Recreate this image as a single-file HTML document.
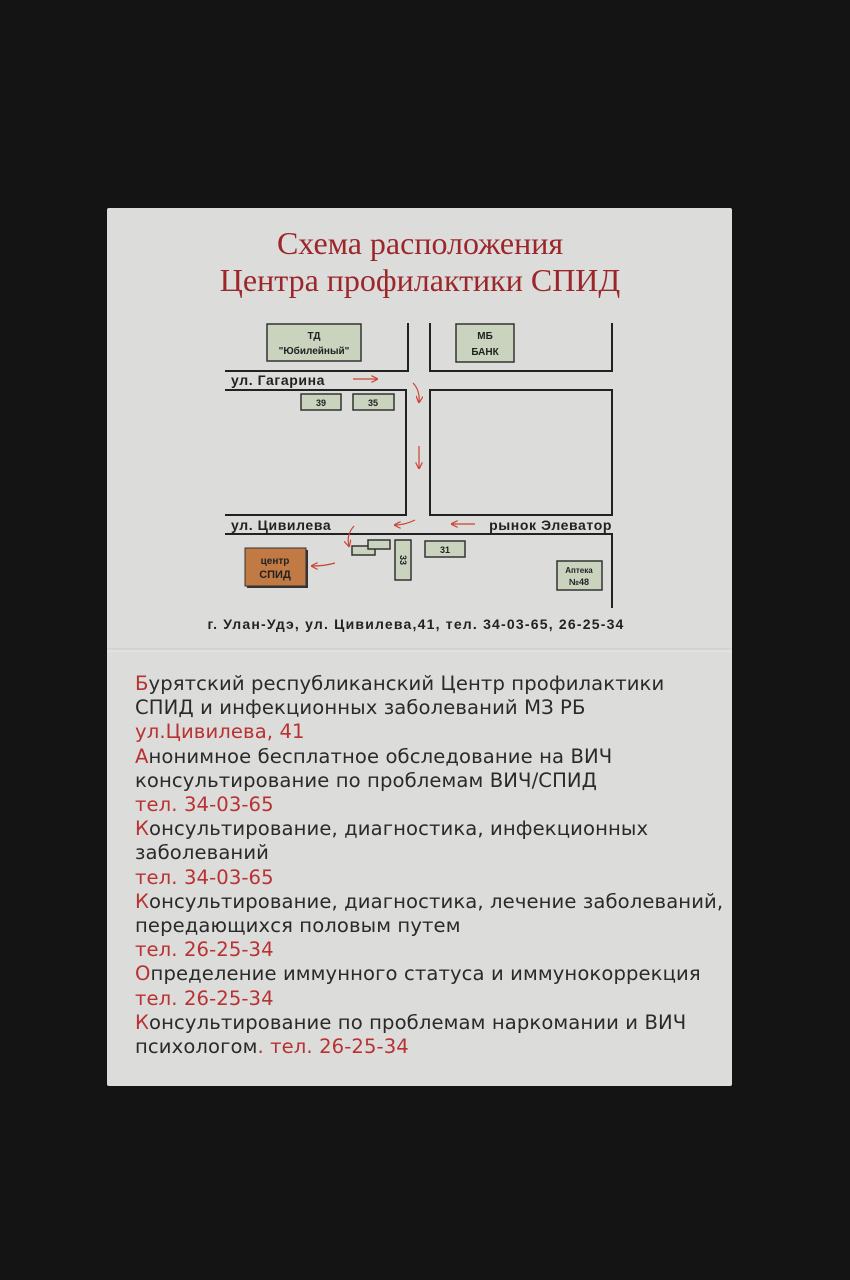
<!DOCTYPE html>
<html><head><meta charset="utf-8"><style>
body{margin:0;width:850px;height:1280px;background:#141414;position:relative;overflow:hidden}
.card{position:absolute;left:107px;top:208px;width:625px;height:878px;background:#dcdcdb;border-radius:2px}
.fold{position:absolute;left:107px;top:648px;width:625px;height:4px;background:linear-gradient(#cfcfce,#e6e6e5)}
.t{position:absolute;width:850px;text-align:center;font-family:"Liberation Serif",serif;color:#9c272b;font-size:32px;left:-5px}
.txt{position:absolute;left:135px;top:672px;font-family:"DejaVu Sans","Liberation Sans",sans-serif;font-size:19.6px;line-height:24.2px;color:#2a2a2a;white-space:nowrap;letter-spacing:0.1px}
.r{color:#b83232}
svg text{font-family:"Liberation Sans",sans-serif;font-weight:bold;fill:#222}
</style></head><body>
<div class="card"></div><div class="fold"></div>
<div class="t" style="top:225px">Схема расположения</div>
<div class="t" style="top:262px">Центра профилактики СПИД</div>
<svg width="850" height="1280" style="position:absolute;left:0;top:0">
<defs><marker id="a" markerWidth="6" markerHeight="6" refX="5" refY="3" orient="auto"><path d="M0,0 L6,3 L0,6" fill="none" stroke="#c43" stroke-width="1"/></marker></defs>
<g stroke="#222" stroke-width="2" fill="none">
<polyline points="408,323 408,371 225,371"/>
<polyline points="225,390 406,390 406,515 225,515"/>
<polyline points="430,323 430,371 612,371 612,323"/>
<rect x="430" y="390" width="182" height="125"/>
<polyline points="225,534 612,534 612,608"/>
</g>
<g fill="#c9d3bd" stroke="#333" stroke-width="1.5">
<rect x="267" y="324" width="94" height="37"/><rect x="456" y="324" width="58" height="38"/>
<rect x="301" y="394" width="40" height="16"/><rect x="353" y="394" width="41" height="16"/>
<rect x="425" y="541" width="40" height="16"/><rect x="395" y="540" width="16" height="40"/>
<rect x="352" y="546" width="23" height="9"/><rect x="368" y="540" width="22" height="9"/>
<rect x="557" y="561" width="45" height="29"/>
</g>
<rect x="247" y="550" width="61" height="38" fill="#333"/>
<rect x="245" y="548" width="61" height="38" fill="#c27a44" stroke="#333"/>
<g stroke="#c43" stroke-width="1.2" fill="none" marker-end="url(#a)">
<path d="M353,379 H377"/><path d="M413,383 Q420,390 419,402"/><path d="M419,446 V468"/>
<path d="M415,520 Q405,525 395,525"/><path d="M475,524 H452"/><path d="M354,526 Q346,535 349,546"/><path d="M335,563 Q325,566 312,566"/>
</g>
<text x="231" y="385" font-size="14" letter-spacing="0.6">ул. Гагарина</text>
<text x="231" y="530" font-size="14" letter-spacing="0.6">ул. Цивилева</text>
<text x="612" y="530" font-size="14" text-anchor="end" letter-spacing="0.6">рынок Элеватор</text>
<text x="314" y="339" font-size="10" text-anchor="middle">ТД</text>
<text x="314" y="354" font-size="10" text-anchor="middle">"Юбилейный"</text>
<text x="485" y="339" font-size="10" text-anchor="middle">МБ</text>
<text x="485" y="355" font-size="10" text-anchor="middle">БАНК</text>
<text x="321" y="406" font-size="9" text-anchor="middle">39</text>
<text x="373" y="406" font-size="9" text-anchor="middle">35</text>
<text x="445" y="553" font-size="9" text-anchor="middle">31</text>
<text x="0" y="0" font-size="9" text-anchor="middle" transform="translate(400,560) rotate(90)">33</text>
<text x="579" y="573" font-size="8" text-anchor="middle">Аптека</text>
<text x="579" y="585" font-size="9" text-anchor="middle">№48</text>
<text x="275" y="564" font-size="10" text-anchor="middle">центр</text>
<text x="275" y="578" font-size="11" text-anchor="middle">СПИД</text>
<text x="416" y="629" font-size="14" text-anchor="middle" letter-spacing="1.2">г. Улан-Удэ, ул. Цивилева,41, тел. 34-03-65, 26-25-34</text>
</svg>
<div class="txt">
<span class="r">Б</span>урятский республиканский Центр профилактики<br>
СПИД и инфекционных заболеваний МЗ РБ<br>
<span class="r">ул.Цивилева, 41</span><br>
<span class="r">А</span>нонимное бесплатное обследование на ВИЧ<br>
консультирование по проблемам ВИЧ/СПИД<br>
<span class="r">тел. 34-03-65</span><br>
<span class="r">К</span>онсультирование, диагностика, инфекционных<br>
заболеваний<br>
<span class="r">тел. 34-03-65</span><br>
<span class="r">К</span>онсультирование, диагностика, лечение заболеваний,<br>
передающихся половым путем<br>
<span class="r">тел. 26-25-34</span><br>
<span class="r">О</span>пределение иммунного статуса и иммунокоррекция<br>
<span class="r">тел. 26-25-34</span><br>
<span class="r">К</span>онсультирование по проблемам наркомании и ВИЧ<br>
психологом<span class="r">. тел. 26-25-34</span>
</div>
</body></html>
